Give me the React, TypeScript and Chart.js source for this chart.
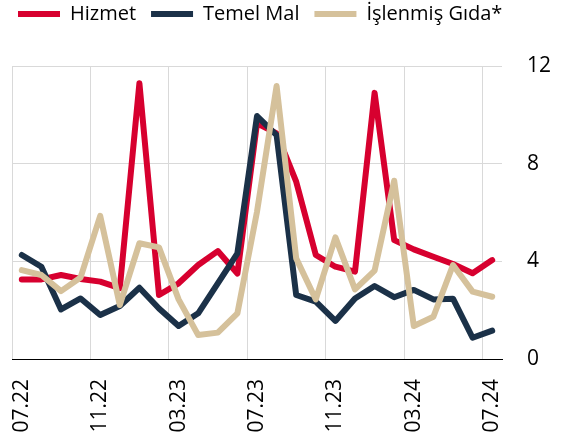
import React, { useEffect, useRef } from 'react';
import { Chart, registerables } from 'chart.js';

Chart.register(...registerables);

const months = ['07.22','08.22','09.22','10.22','11.22','12.22','01.23','02.23','03.23','04.23','05.23','06.23','07.23','08.23','09.23','10.23','11.23','12.23','01.24','02.24','03.24','04.24','05.24','06.24','07.24'];
const hizmet = [3.26,3.26,3.44,3.28,3.17,2.9,11.29,2.62,3.1,3.85,4.42,3.5,9.65,9.24,7.26,4.26,3.78,3.58,10.9,4.87,4.49,4.19,3.89,3.51,4.05];
const temelMal = [4.26,3.78,2.03,2.48,1.8,2.17,2.92,2.07,1.35,1.87,3.1,4.33,9.95,9.17,2.62,2.35,1.56,2.48,2.99,2.53,2.83,2.44,2.47,0.87,1.16];
const islenmisGida = [3.64,3.44,2.78,3.34,5.86,2.21,4.74,4.57,2.44,0.98,1.08,1.87,6.03,11.18,4.12,2.44,4.98,2.85,3.62,7.3,1.35,1.73,3.85,2.76,2.55];
const seriesNames = ['Hizmet', 'Temel Mal', 'İşlenmiş Gıda*'];
const yTicks = [0, 4, 8, 12];

const RED = '#d7002f';
const NAVY = '#1b3148';
const TAN = '#d5c19b';
const GRID = '#d9d9d9';
const FONT = "'Open Sans', sans-serif";

const layoutTweaks = {
  id: 'layoutTweaks',
  beforeInit(chart: any) {
    const legend = chart.legend;
    if (legend) {
      const orig = legend.fit;
      legend.fit = function () {
        orig.call(this);
        this.height += 32;
      };
    }
  },
  afterLayout(chart: any) {
    if (chart.legend) {
      chart.legend.left -= 9;
    }
  },
};

export default function App() {
  const ref = useRef<HTMLCanvasElement | null>(null);

  useEffect(() => {
    if (!ref.current) return;
    const mk = (label: string, data: number[], color: string, order: number) => ({
      label,
      data,
      borderColor: color,
      backgroundColor: color,
      borderWidth: 6,
      pointRadius: 0,
      pointHoverRadius: 0,
      borderCapStyle: 'round' as const,
      borderJoinStyle: 'round' as const,
      tension: 0,
      fill: false,
      order,
    });
    const chart = new Chart(ref.current, {
      type: 'line',
      data: {
        labels: months,
        datasets: [
          mk(seriesNames[0], hizmet, RED, 2),
          mk(seriesNames[1], temelMal, NAVY, 1),
          mk(seriesNames[2], islenmisGida, TAN, 0),
        ],
      },
      options: {
        animation: false,
        responsive: true,
        maintainAspectRatio: false,
        layout: { padding: { left: 12, right: 0, top: 0, bottom: 0 } },
        font: { family: FONT },
        plugins: {
          tooltip: { enabled: false },
          legend: {
            position: 'top',
            align: 'start',
            labels: {
              usePointStyle: true,
              pointStyle: 'line',
              pointStyleWidth: 42,
              padding: 15,
              color: '#000',
              font: { family: FONT, size: 20 },
              sort: (a: any, b: any) => a.datasetIndex - b.datasetIndex,
            },
          },
        },
        scales: {
          x: {
            offset: true,
            grid: {
              offset: true,
              drawTicks: false,
              lineWidth: 1,
              color: (ctx: any) =>
                typeof ctx.index === 'number' && ctx.index % 4 === 0 && ctx.index < months.length
                  ? GRID
                  : 'rgba(0,0,0,0)',
            },
            border: { display: true, color: '#000', width: 1 },
            ticks: {
              autoSkip: false,
              maxRotation: 90,
              minRotation: 90,
              padding: 20,
              color: '#000',
              font: { family: FONT, size: 21 },
              callback: (_v: any, i: number) => (i % 4 === 0 ? months[i] : ''),
            },
            afterFit: (s: any) => {
              s.height = 84;
            },
          },
          y: {
            position: 'right',
            min: 0,
            max: 12,
            afterBuildTicks: (s: any) => {
              s.ticks = yTicks.map((v) => ({ value: v }));
            },
            grid: {
              drawTicks: false,
              lineWidth: 1,
              color: (ctx: any) => (ctx.tick && ctx.tick.value === 0 ? 'rgba(0,0,0,0)' : GRID),
            },
            border: { display: false },
            ticks: {
              padding: 25,
              color: '#000',
              font: { family: FONT, size: 21 },
            },
            afterFit: (s: any) => {
              s.width = 69;
            },
          },
        },
      } as any,
      plugins: [layoutTweaks],
    });
    return () => chart.destroy();
  }, []);

  return (
    <div style={{ position: 'absolute', left: 0, top: -11, width: 571, height: 454 }}>
      <canvas ref={ref} />
    </div>
  );
}
